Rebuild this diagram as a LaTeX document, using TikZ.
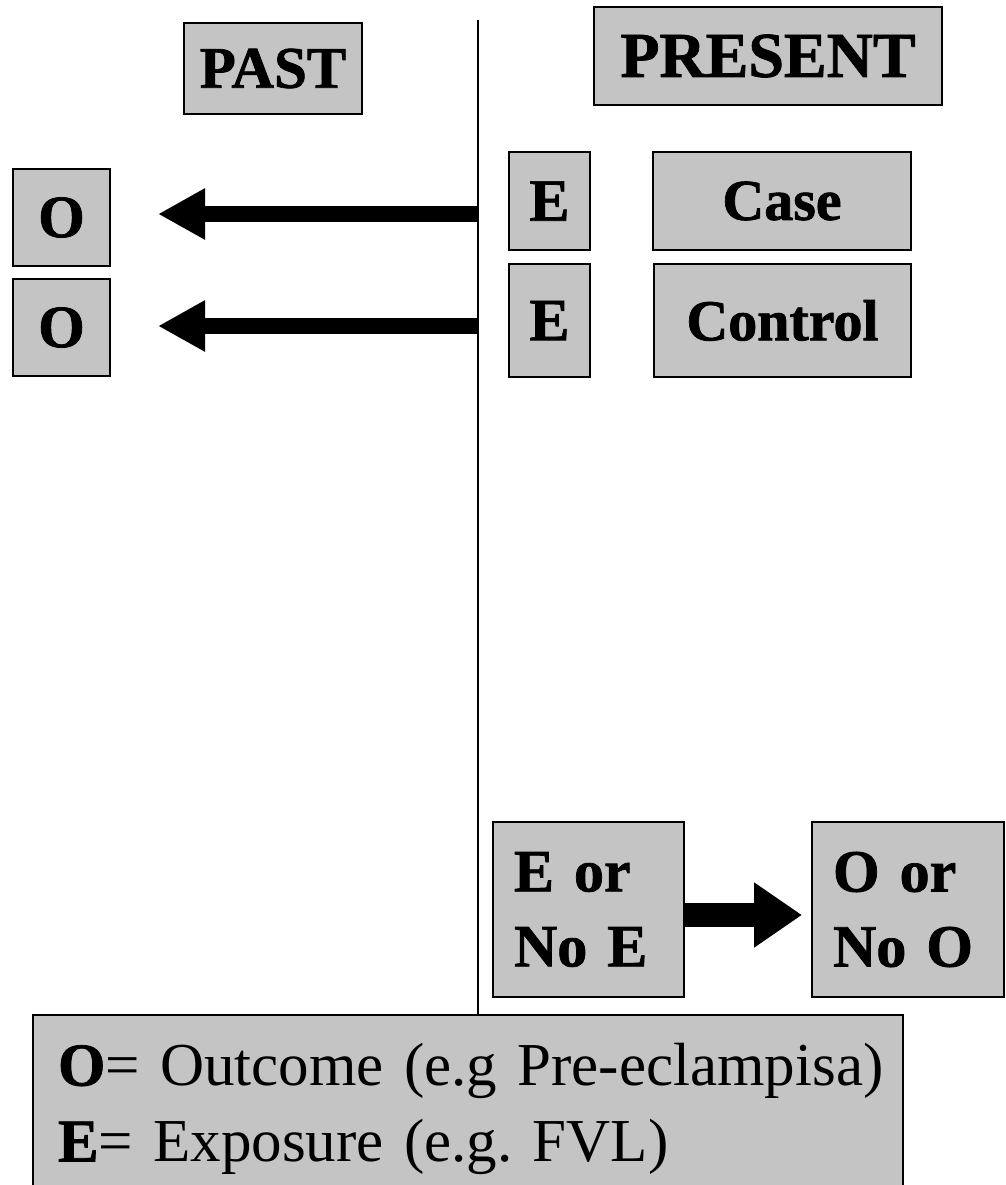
\documentclass[tikz,border=0pt]{standalone}
\usepackage{fontspec}
\setmainfont{Liberation Serif}[BoldFeatures={FakeBold=1.2}]
\usetikzlibrary{arrows.meta}
\definecolor{boxfill}{HTML}{C4C4C4}
\frenchspacing
\begin{document}
\begin{tikzpicture}[x=1pt,y=-1pt,
  panel/.style={draw=black, fill=boxfill, line width=2pt, inner sep=0pt,
    font=\bfseries\fontsize{60}{72}\selectfont},
  twoline/.style={panel, align=left, inner xsep=21pt,
    font=\bfseries\fontsize{60}{75}\selectfont},
  divider/.style={line width=2pt},
  backarrow/.style={line width=16pt,
    -{Triangle[length=47pt,width=48pt]}},
  fwdarrow/.style={line width=24pt,
    -{Triangle[length=48pt,width=62pt]}}]
\useasboundingbox (0,0) rectangle (1005,1185);

% time headings
\node[panel, minimum width=178pt, minimum height=91pt,
  font=\bfseries\fontsize{59}{70}\selectfont] (past) at (273,68.5) {PAST};
\node[panel, minimum width=348pt, minimum height=98pt,
  font=\bfseries\fontsize{64}{76}\selectfont] (present) at (768,56) {PRESENT};

% outcomes looked up in the past
\node[panel, minimum width=97pt, minimum height=97pt] (o1) at (61.5,217.5) {O};
\node[panel, minimum width=97pt, minimum height=97pt] (o2) at (61.5,327.5) {O};

% exposures and groups in the present
\node[panel, minimum width=81pt, minimum height=98pt] (e1) at (549.5,201) {E};
\node[panel, minimum width=81pt, minimum height=113pt] (e2) at (549.5,320.5) {E};
\node[panel, minimum width=258pt, minimum height=98pt,
  font=\bfseries\fontsize{58}{70}\selectfont] (case) at (782,201) {Case};
\node[panel, minimum width=257pt, minimum height=113pt,
  font=\bfseries\fontsize{58}{70}\selectfont] (control) at (782.5,320.5) {Control};

% forward (cohort) direction
\node[twoline, text width=149pt, minimum width=191pt, minimum height=175pt]
  (eor) at (588.5,909.5) {E or\\No E};
\node[twoline, text width=150pt, minimum width=192pt, minimum height=175pt]
  (oor) at (908,909.5) {O or\\No O};

% legend
\node[panel, align=left, text width=820pt, inner xsep=25pt,
  minimum width=870pt, minimum height=188pt,
  font=\normalfont\fontsize{61}{76}\selectfont] (legend) at (468,1109)
  {\mbox{\textbf{O}= Outcome (e.g Pre-eclampisa)}\\\mbox{\textbf{E}= Exposure (e.g. FVL)}};

% dividing line between past and present
\coordinate (vtop) at (478,20);
\draw[divider] (vtop) -- (vtop |- legend.north);

% arrows back in time
\coordinate (a1s) at (478,214);
\coordinate (a1e) at (158,214);
\coordinate (a2s) at (478,326);
\coordinate (a2e) at (158,326);
\draw[backarrow] (a1s) -- (a1e);
\draw[backarrow] (a2s) -- (a2e);

% arrow forward in time
\draw[fwdarrow] ([yshift=-5.5pt]eor.east) -- ([yshift=-5.5pt,xshift=-9pt]oor.west);
\end{tikzpicture}
\end{document}
